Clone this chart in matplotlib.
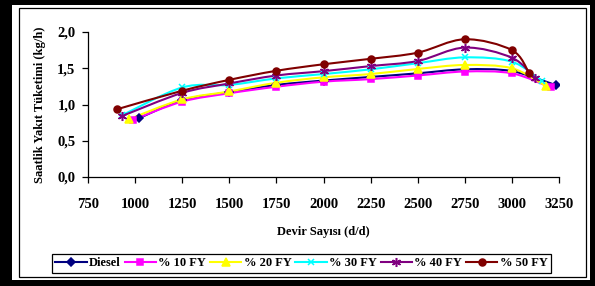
import matplotlib
matplotlib.use("Agg")
import matplotlib.pyplot as plt
import numpy as np
from matplotlib.lines import Line2D
from matplotlib.patches import PathPatch, Rectangle
from matplotlib.path import Path
from matplotlib.ticker import FuncFormatter

plt.rcParams['font.family'] = ['Liberation Serif', 'DejaVu Serif']
plt.rcParams['font.weight'] = 'bold'

# engine speed (d/d) and hourly fuel consumption (kg/h) per fuel blend
rpm_diesel = [1020, 1250, 1500, 1750, 2000, 2250, 2500, 2750, 3000, 3235]
fc_diesel = [0.81, 1.06, 1.17, 1.27, 1.33, 1.38, 1.43, 1.485, 1.46, 1.265]

rpm_fy10 = [990, 1250, 1500, 1750, 2000, 2250, 2500, 2750, 3000, 3205]
fc_fy10 = [0.79, 1.04, 1.155, 1.245, 1.315, 1.35, 1.40, 1.455, 1.43, 1.235]

rpm_fy20 = [970, 1250, 1500, 1750, 2000, 2250, 2500, 2750, 3000, 3180]
fc_fy20 = [0.80, 1.07, 1.18, 1.30, 1.375, 1.42, 1.49, 1.545, 1.50, 1.255]

rpm_fy30 = [930, 1250, 1500, 1750, 2000, 2250, 2500, 2750, 3000, 3160]
fc_fy30 = [0.85, 1.235, 1.27, 1.36, 1.42, 1.485, 1.57, 1.65, 1.59, 1.32]

rpm_fy40 = [930, 1250, 1500, 1750, 2000, 2250, 2500, 2750, 3000, 3120]
fc_fy40 = [0.84, 1.16, 1.29, 1.40, 1.46, 1.53, 1.60, 1.785, 1.645, 1.37]

rpm_fy50 = [905, 1250, 1500, 1750, 2000, 2250, 2500, 2750, 3000, 3090]
fc_fy50 = [0.935, 1.19, 1.34, 1.465, 1.555, 1.63, 1.715, 1.90, 1.75, 1.44]

series_labels = ["Diesel", "% 10 FY", "% 20 FY", "% 30 FY", "% 40 FY", "% 50 FY"]
x_ticks = [750, 1000, 1250, 1500, 1750, 2000, 2250, 2500, 2750, 3000, 3250]
y_ticks = [0.0, 0.5, 1.0, 1.5, 2.0]

styles = [
    dict(color='#000080', marker='D', ms=4),
    dict(color='#FF00FF', marker='s', ms=4.5),
    dict(color='#FFFF00', marker='^', ms=5.5),
    dict(color='#00FFFF', marker='x', ms=5),
    dict(color='#800080', marker=(6, 2, 0), ms=6.5),
    dict(color='#800000', marker='o', ms=5),
]


def smooth_path(x, y):
    # excel style smoothed line, bezier segments through the data points
    pts = np.column_stack([x, y]).astype(float)
    n = len(pts)
    verts = [pts[0]]
    codes = [Path.MOVETO]
    for i in range(n - 1):
        p0 = pts[max(i - 1, 0)]
        p1 = pts[i]
        p2 = pts[i + 1]
        p3 = pts[min(i + 2, n - 1)]
        verts += [p1 + (p2 - p0) / 6, p2 - (p3 - p1) / 6, p2]
        codes += [Path.CURVE4] * 3
    return Path(verts, codes)


W, H = 595, 286
fig = plt.figure(figsize=(W / 100, H / 100), dpi=100)
fig.patch.set_facecolor('black')
fig.patches.append(Rectangle((12 / W, 6 / H), 578 / W, 275 / H,
                             transform=fig.transFigure, facecolor='white',
                             edgecolor='none', zorder=-2))
fig.patches.append(Rectangle((19 / W, 9 / H), 567 / W, 269 / H,
                             transform=fig.transFigure, facecolor='none',
                             edgecolor='black', lw=0.9, zorder=-1))

ax = fig.add_axes([88 / W, 1 - 177 / H, 471 / W, 145 / H])
ax.set_zorder(3)
ax.patch.set_alpha(0)

all_x = [rpm_diesel, rpm_fy10, rpm_fy20, rpm_fy30, rpm_fy40, rpm_fy50]
all_y = [fc_diesel, fc_fy10, fc_fy20, fc_fy30, fc_fy40, fc_fy50]
handles = []
for xs, ys, st, lab in zip(all_x, all_y, styles, series_labels):
    ax.add_patch(PathPatch(smooth_path(xs, ys), fill=False,
                           edgecolor=st['color'], lw=1.5, zorder=2))
    ax.plot(xs, ys, linestyle='none', marker=st['marker'], ms=st['ms'],
            color=st['color'], mec=st['color'], mew=1.1, zorder=3)
    handles.append(Line2D([], [], color=st['color'], lw=1.5,
                          marker=st['marker'], ms=st['ms'],
                          mec=st['color'], mew=1.1, label=lab))

ax.set_xlim(750, 3250)
ax.set_ylim(0, 2.0)
ax.set_xticks(x_ticks)
ax.set_yticks(y_ticks)
ax.yaxis.set_major_formatter(FuncFormatter(lambda v, p: f"{v:.1f}".replace('.', ',')))
for s in ['top', 'right']:
    ax.spines[s].set_visible(False)
ax.spines['left'].set_linewidth(0.9)
ax.spines['bottom'].set_linewidth(0.9)
ax.tick_params(axis='x', direction='out', length=4, width=0.9, pad=11, labelsize=10.5)
ax.tick_params(axis='y', direction='out', length=4, width=0.9, pad=5, labelsize=10.5)

ax.set_xlabel("Devir Sayısı (d/d)", fontsize=9, fontweight='bold', labelpad=11)
ax.set_ylabel("Saatlik Yakıt Tüketimi (kg/h)", fontsize=9, fontweight='bold', labelpad=8)

leg = fig.legend(handles=handles, loc='center', ncol=6,
                 bbox_to_anchor=(301.5 / W, 1 - 263.5 / H), bbox_transform=fig.transFigure,
                 fancybox=False, edgecolor='black', framealpha=1,
                 prop=dict(size=9, weight='bold'), handlelength=2.5,
                 columnspacing=0.3, handletextpad=0.2, borderpad=0.3)
leg.get_frame().set_linewidth(0.9)
leg.set_zorder(4)

fig.savefig('out.png', dpi=100, facecolor=fig.get_facecolor())
